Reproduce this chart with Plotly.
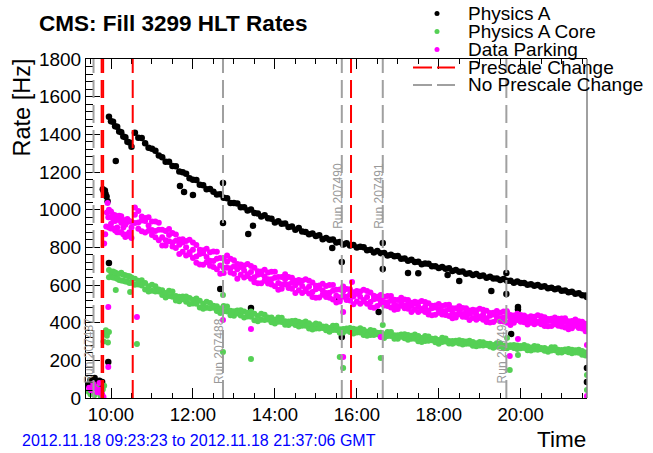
import pandas as pd
import plotly.graph_objects as go

FONT = "Liberation Sans, Arial, Helvetica, sans-serif"
BASE = pd.Timestamp("2012-11-18 09:00:00")
X_RANGE = ["2012-11-18 09:23:23", "2012-11-18 21:37:06"]

# ---------------- data (times in minutes after 09:00 GMT, rates in Hz) ----------------
t_seg1 = [57, 60, 63, 66, 69, 72, 75, 78, 81, 84, 87, 90]
t_seg2 = [95, 100, 105, 110, 115, 120, 125, 130, 135, 140,
          145, 150, 155, 160, 165, 170, 175, 180, 185, 190,
          195, 200, 205, 210, 215, 220, 225, 230, 235, 240,
          245, 250, 255, 260, 265, 270, 275, 280, 285, 290,
          295, 300, 305, 310, 315, 320, 325, 330, 335, 340,
          345, 350, 355, 360, 365, 370, 375, 380, 385, 390,
          395, 400, 405, 410, 415, 420, 425, 430, 435, 440,
          445, 450, 455, 460, 465, 470, 475, 480, 485, 490,
          495, 500, 505, 510, 515, 520, 525, 530, 535, 540,
          545, 550, 555, 560, 565, 570, 575, 580, 585, 590,
          595, 600, 605, 610, 615, 620, 625, 630, 635, 640,
          645, 650, 655, 660, 665, 670, 675, 680, 685, 690,
          695, 700, 705, 710, 715, 720, 725, 730, 735, 740,
          745, 750, 755]

physA_seg1 = [1493, 1470, 1467, 1443, 1440, 1415, 1411, 1388, 1384, 1360, 1357, 1334]
physA_seg2 = [1409, 1382, 1380, 1352, 1329, 1323, 1313, 1288, 1278, 1254,
              1254, 1232, 1230, 1203, 1199, 1191, 1167, 1159, 1158, 1132,
              1130, 1109, 1110, 1095, 1081, 1082, 1063, 1060, 1036, 1036,
              1033, 1013, 1013, 995, 1001, 982, 980, 964, 970, 954,
              952, 932, 938, 925, 926, 908, 910, 893, 902, 884,
              882, 869, 873, 860, 864, 843, 849, 840, 841, 826,
              828, 815, 822, 810, 813, 799, 803, 801, 785, 787,
              773, 780, 769, 770, 756, 760, 752, 754, 739, 741,
              729, 734, 722, 724, 710, 714, 713, 699, 700, 690,
              695, 686, 689, 674, 679, 671, 672, 660, 663, 653,
              659, 648, 650, 638, 644, 634, 635, 626, 632, 622,
              623, 612, 618, 610, 611, 601, 604, 596, 600, 591,
              593, 583, 586, 578, 582, 570, 571, 562, 564, 554,
              556, 546, 544]
physA_early_t = [27, 30, 33, 36, 38, 41, 43, 45, 47, 48, 49.5, 51, 52, 53.5, 55]
physA_early_v = [70, 95, 82, 106, 88, 75, 92, 60, 85, 1108, 1095, 1102, 1085, 1070, 1045]
physA_out_t = [67, 57, 56, 161, 167, 180, 224, 224, 261, 268, 220, 265, 384, 398, 394,
               398, 458, 458, 452, 495, 510, 570, 617, 639, 639, 656, 656, 646, 553,
               757, 757, 757, 757]
physA_out_v = [1258, 717, 191, 1126, 1094, 1078, 1142, 929, 871, 915, 579, 478, 797, 722, 520,
               324, 823, 685, 457, 664, 662, 621, 568, 664, 552, 483, 470, 340, 653,
               536, 388, 159, 85]

core_seg1_a = [680, 645, 672, 638, 661, 626, 665, 622, 652, 617, 646, 612]
core_seg1_b = [641, 670, 640, 666, 633, 659, 624, 654, 618, 648, 611, 640]
core_seg2_a = [633, 603, 625, 576, 593, 569, 593, 565, 572, 534,
               570, 538, 541, 514, 539, 511, 531, 502, 528, 481,
               501, 479, 505, 479, 487, 451, 489, 459, 463, 437,
               464, 438, 459, 433, 459, 413, 435, 415, 442, 417,
               427, 396, 427, 404, 407, 388, 409, 388, 405, 384,
               406, 369, 386, 369, 391, 372, 380, 352, 383, 361,
               365, 348, 369, 350, 368, 348, 370, 334, 352, 335,
               357, 339, 347, 319, 351, 329, 333, 315, 337, 317,
               335, 315, 337, 301, 319, 303, 326, 307, 316, 288,
               320, 300, 303, 288, 304, 290, 303, 288, 304, 277,
               291, 279, 296, 281, 288, 267, 291, 274, 278, 264,
               280, 265, 279, 264, 281, 254, 268, 257, 273, 259,
               266, 245, 269, 253, 256, 241, 257, 243, 256, 241,
               256, 229, 242]
core_seg2_b = [601, 623, 598, 611, 566, 601, 565, 576, 547, 558,
               542, 565, 518, 537, 524, 539, 499, 522, 501, 516,
               474, 511, 477, 490, 462, 475, 461, 486, 440, 460,
               449, 466, 427, 453, 432, 448, 408, 447, 414, 428,
               402, 416, 405, 426, 389, 406, 397, 410, 379, 400,
               384, 397, 364, 395, 369, 380, 360, 372, 361, 383,
               347, 366, 357, 372, 342, 364, 348, 362, 330, 361,
               335, 347, 327, 339, 329, 351, 315, 333, 325, 339,
               309, 331, 315, 329, 297, 329, 304, 315, 296, 308,
               298, 316, 289, 302, 295, 307, 284, 300, 288, 298,
               275, 298, 279, 288, 273, 281, 274, 290, 264, 278,
               271, 282, 260, 276, 265, 275, 252, 276, 256, 266,
               251, 259, 252, 269, 242, 255, 248, 260, 237, 253,
               240, 250, 226]
core_early_t = [27, 30, 33, 36, 39, 42, 45, 48, 50, 49, 51, 52.5, 54, 55.5, 57]
core_early_v = [35, 20, 55, 15, 60, 30, 10, 45, 65, 300, 345, 360, 330, 295, 350]
core_out_t = [67, 88, 98, 224, 224, 265, 395, 400, 455, 458, 644, 640, 656, 757, 757]
core_out_v = [574, 563, 287, 547, 244, 207, 218, 159, 212, 388, 149, 319, 228, 122, 42]

park_seg1_a = [1000, 925, 975, 890, 960, 968, 880, 940, 855, 935, 880, 935]
park_seg1_b = [905, 990, 900, 970, 905, 880, 965, 870, 945, 870, 940, 850]
park_seg1_c = [960, 900, 950, 940, 880, 945, 930, 905, 920, 950, 860, 905]
park_seg2_a = [1012, 932, 964, 879, 916, 937, 854, 893, 810, 887,
               832, 876, 796, 814, 826, 756, 840, 826, 751, 787,
               707, 749, 774, 695, 739, 660, 741, 691, 739, 660,
               683, 695, 640, 711, 701, 641, 673, 609, 645, 667,
               603, 639, 575, 643, 603, 643, 580, 599, 613, 558,
               631, 623, 563, 596, 534, 571, 595, 532, 569, 507,
               576, 538, 579, 518, 539, 554, 501, 575, 568, 510,
               543, 489, 519, 537, 488, 517, 469, 521, 490, 523,
               474, 488, 500, 457, 515, 510, 464, 490, 442, 471,
               489, 441, 471, 423, 476, 445, 478, 430, 446, 457,
               416, 474, 469, 424, 451, 404, 434, 453, 406, 436,
               388, 438, 414, 441, 402, 415, 425, 392, 439, 434,
               399, 420, 382, 406, 421, 380, 403, 365, 409, 383,
               408, 369, 380]
park_seg2_b = [929, 993, 886, 940, 888, 892, 937, 837, 893, 837,
               898, 804, 835, 764, 843, 801, 774, 743, 812, 709,
               768, 721, 729, 778, 683, 743, 691, 757, 667, 699,
               633, 709, 677, 657, 633, 691, 609, 659, 622, 630,
               671, 593, 643, 602, 657, 584, 612, 558, 627, 595,
               577, 555, 613, 532, 584, 548, 558, 600, 523, 575,
               535, 592, 520, 550, 498, 568, 538, 521, 500, 560,
               479, 528, 501, 508, 541, 481, 522, 489, 532, 477,
               499, 456, 511, 486, 473, 457, 503, 440, 481, 453,
               460, 494, 435, 476, 444, 487, 432, 455, 414, 468,
               445, 432, 416, 463, 401, 443, 416, 424, 459, 400,
               441, 413, 448, 405, 422, 390, 434, 415, 405, 392,
               429, 381, 412, 392, 398, 422, 375, 407, 384, 417,
               372, 389, 355]
park_seg2_c = [973, 899, 942, 956, 960, 865, 887, 931, 854, 810,
               865, 826, 868, 842, 776, 834, 763, 787, 718, 765,
               784, 793, 702, 728, 777, 704, 664, 724, 689, 732,
               711, 654, 704, 648, 669, 614, 655, 672, 681, 608,
               630, 670, 611, 580, 630, 602, 639, 622, 572, 622,
               568, 591, 536, 578, 597, 607, 536, 559, 600, 543,
               513, 565, 538, 577, 562, 513, 565, 512, 536, 483,
               525, 538, 547, 491, 509, 541, 497, 472, 511, 491,
               520, 506, 468, 507, 466, 485, 443, 476, 491, 499,
               443, 462, 495, 451, 427, 466, 446, 476, 464, 425,
               466, 425, 444, 403, 437, 453, 462, 407, 427, 460,
               416, 399, 431, 416, 438, 429, 400, 432, 400, 415,
               382, 409, 421, 428, 384, 397, 423, 387, 370, 400,
               383, 405, 394]
park_early_t = [28, 31, 34, 37, 40, 43, 45, 47, 49, 50, 51.5, 53, 54, 55, 56]
park_early_v = [55, 40, 75, 50, 30, 80, 45, 20, 5, 820, 870, 910, 985, 1035, 960]
park_out_t = [56, 56, 98, 224, 265, 400, 400, 413, 455, 644, 656, 757, 757]
park_out_v = [483, 165, 430, 414, 366, 457, 218, 616, 324, 223, 313, 281, 11]

prescale_change_t = [46.3, 48.5, 91.8, 411.5]
no_prescale_change_t = [34.4, 224, 398, 458, 639]
run_labels = ["Run 207487", "Run 207488", "Run 207490", "Run 207491", "Run 207492"]
run_label_t = [34.4, 224, 398, 458, 639]
run_label_y = [252, 252, 1075, 1075, 252]

legend_names = ["Physics A", "Physics A Core", "Data Parking", "Prescale Change", "No Prescale Change"]

# ---------------- helpers ----------------
def at(m):
    return (BASE + pd.Timedelta(minutes=m)).strftime("%Y-%m-%d %H:%M:%S")


def collect(pairs):
    xs, ys = [], []
    for tl, vl in pairs:
        for t, v in zip(tl, vl):
            xs.append(at(t))
            ys.append(v)
    return xs, ys


L, R, T, B = 86, 66, 59, 55
W, H = 653, 453
PW, PH = W - L - R, H - T - B


def px(x):
    return (x - L) / PW


def py(y):
    return (H - B - y) / PH


BLACK = "#000000"
GREEN = "#55d055"
MAGENTA = "#ff00ff"
RED = "#ff0000"
GREY = "#a0a0a0"
DASH = "18px,7px"

fig = go.Figure()

series = [
    (BLACK, 6.5, [(t_seg1, physA_seg1), (t_seg2, physA_seg2), (physA_early_t, physA_early_v),
                  (physA_out_t, physA_out_v)]),
    (GREEN, 6, [(t_seg1, core_seg1_a), (t_seg1, core_seg1_b), (t_seg2, core_seg2_a),
                (t_seg2, core_seg2_b), (core_early_t, core_early_v), (core_out_t, core_out_v)]),
    (MAGENTA, 6, [(t_seg1, park_seg1_a), (t_seg1, park_seg1_b), (t_seg1, park_seg1_c),
                  (t_seg2, park_seg2_a), (t_seg2, park_seg2_b), (t_seg2, park_seg2_c),
                  (park_early_t, park_early_v), (park_out_t, park_out_v)]),
]
for (color, msize, pairs), name in zip(series, legend_names):
    xs, ys = collect(pairs)
    fig.add_trace(go.Scatter(x=xs, y=ys, mode="markers", name=name, showlegend=False,
                             hoverinfo="skip",
                             marker=dict(size=msize, color=color, line=dict(width=0))))

shapes = []
for t in no_prescale_change_t:
    shapes.append(dict(type="line", xref="x", yref="paper", x0=at(t), x1=at(t), y0=0, y1=1,
                       line=dict(color=GREY, width=2, dash=DASH), layer="above"))
for t in prescale_change_t:
    shapes.append(dict(type="line", xref="x", yref="paper", x0=at(t), x1=at(t), y0=0, y1=1,
                       line=dict(color=RED, width=2, dash=DASH), layer="above"))
# right frame
shapes.append(dict(type="line", xref="paper", yref="paper", x0=1, x1=1, y0=0, y1=1,
                   line=dict(color="#808080", width=1.5), layer="above"))

annotations = []
for name, t, yv in zip(run_labels, run_label_t, run_label_y):
    annotations.append(dict(x=at(t), y=yv, xref="x", yref="y", text=name, showarrow=False,
                            textangle=-90, xanchor="center", yanchor="middle", xshift=-4.5,
                            font=dict(size=12, color="#999999", family=FONT)))

# manual legend (ROOT style, no frame)
leg_rows = [13.5, 31.5, 49.5, 67.5, 85]
leg_colors = [BLACK, GREEN, MAGENTA, RED, GREY]
for i, (name, yrow, col) in enumerate(zip(legend_names, leg_rows, leg_colors)):
    if i < 3:
        shapes.append(dict(type="circle", xref="paper", yref="paper",
                           x0=px(434.5), x1=px(439.5), y0=py(yrow + 2.5), y1=py(yrow - 2.5),
                           fillcolor=col, line=dict(width=0)))
    else:
        for xa, xb in [(413, 432), (437, 455)]:
            shapes.append(dict(type="line", xref="paper", yref="paper",
                               x0=px(xa), x1=px(xb), y0=py(yrow), y1=py(yrow),
                               line=dict(color=col, width=2)))
    annotations.append(dict(x=px(466), y=py(yrow), xref="paper", yref="paper", text=name,
                            showarrow=False, xanchor="left", yanchor="middle",
                            font=dict(size=19, color="black", family=FONT)))

annotations += [
    dict(x=px(37), y=py(23.5), xref="paper", yref="paper", text="<b>CMS: Fill 3299 HLT Rates</b>",
         showarrow=False, xanchor="left", yanchor="middle", font=dict(size=22.5, family=FONT)),
    dict(x=px(21.5), y=py(108), xref="paper", yref="paper", text="Rate [Hz]", textangle=-90,
         showarrow=False, xanchor="center", yanchor="middle", font=dict(size=23.5, family=FONT)),
    dict(x=px(588), y=py(439), xref="paper", yref="paper", text="Time",
         showarrow=False, xanchor="right", yanchor="middle", font=dict(size=22.5, family=FONT)),
    dict(x=px(20), y=py(440), xref="paper", yref="paper",
         text="2012.11.18 09:23:23 to 2012.11.18 21:37:06 GMT",
         showarrow=False, xanchor="left", yanchor="middle",
         font=dict(size=16, color="#0000ff", family=FONT)),
]

fig.update_layout(
    width=W, height=H, margin=dict(l=L, r=R, t=T, b=B, pad=0),
    paper_bgcolor="white", plot_bgcolor="white",
    font=dict(family=FONT, color="black"), showlegend=False,
    shapes=shapes, annotations=annotations,
    xaxis=dict(type="date", range=X_RANGE, tickformat="%H:%M",
               tick0="2012-11-18 10:00:00", dtick=7200000,
               ticks="inside", ticklen=10, tickwidth=1, tickcolor="black",
               showline=True, linecolor="black", linewidth=1, mirror="ticks",
               showgrid=False, zeroline=False, tickfont=dict(size=18.5, family=FONT),
               minor=dict(dtick=1800000, tick0="2012-11-18 09:30:00", ticks="inside",
                          ticklen=5, tickcolor="black", showgrid=False)),
    yaxis=dict(range=[0, 1800], tick0=0, dtick=200,
               ticks="inside", ticklen=14, tickwidth=1, tickcolor="black",
               showline=True, linecolor="black", linewidth=1, mirror=False,
               showgrid=False, zeroline=False, tickfont=dict(size=19, family=FONT),
               minor=dict(dtick=40, ticks="inside", ticklen=7, tickcolor="black",
                          showgrid=False)),
)

fig.write_html("out.html", config={"displayModeBar": False},
               post_script="document.body.style.margin='0';document.body.style.overflow='hidden';")
